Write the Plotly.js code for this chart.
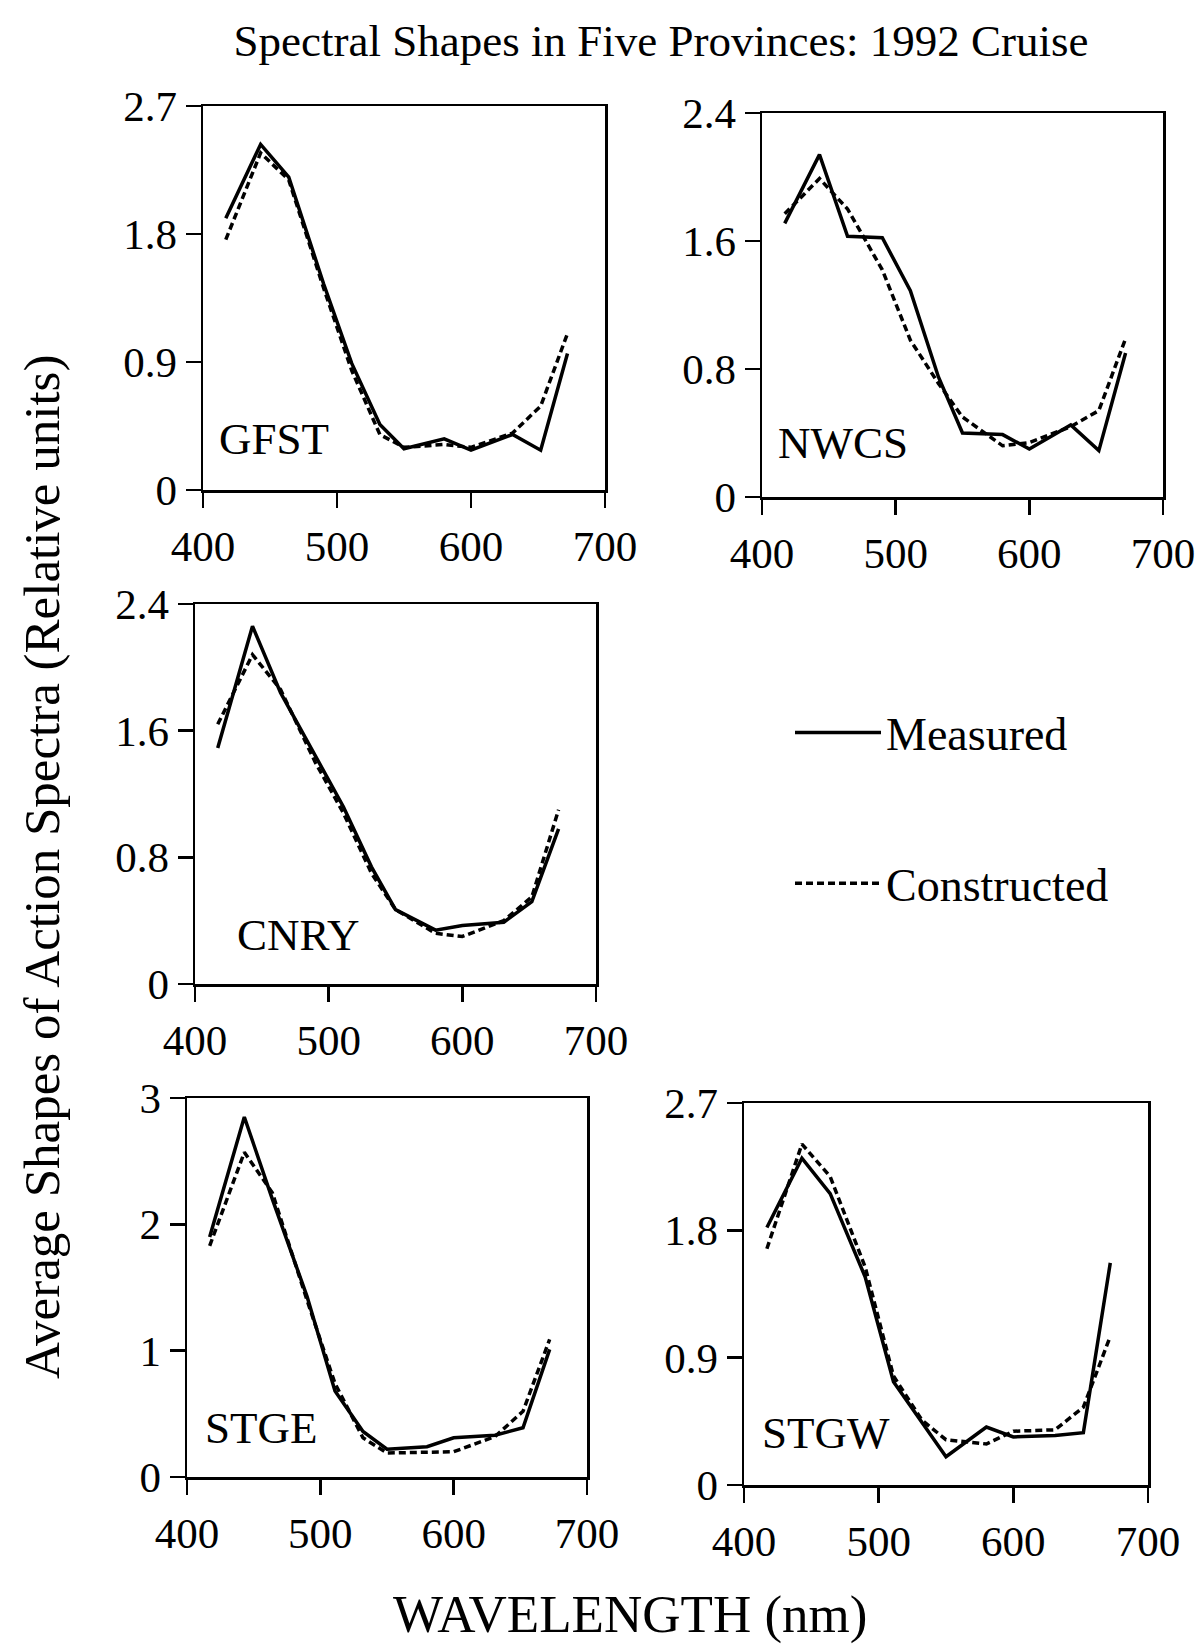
<!DOCTYPE html>
<html>
<head>
<meta charset="utf-8">
<script src="https://cdn.plot.ly/plotly-3.0.1.min.js"></script>
<style>body{margin:0;background:#fff}#chart{width:1200px;height:1648px}</style>
</head>
<body>
<div id="chart"></div>
<script>
// ---- data ----
const wavelengths = [417, 443, 464, 490, 511, 532, 550, 580, 600, 631, 652, 672];
const provinces = ["GFST", "NWCS", "CNRY", "STGE", "STGW"];

const gfstMeasured    = [1.91, 2.43, 2.20, 1.45, 0.89, 0.46, 0.29, 0.36, 0.28, 0.39, 0.28, 0.96];
const gfstConstructed = [1.76, 2.37, 2.18, 1.42, 0.84, 0.39, 0.30, 0.32, 0.30, 0.40, 0.59, 1.10];

const nwcsMeasured    = [1.71, 2.14, 1.63, 1.62, 1.29, 0.75, 0.40, 0.39, 0.30, 0.45, 0.29, 0.90];
const nwcsConstructed = [1.77, 1.99, 1.80, 1.42, 0.98, 0.71, 0.50, 0.32, 0.34, 0.44, 0.54, 0.99];

const cnryMeasured    = [1.49, 2.26, 1.84, 1.44, 1.12, 0.74, 0.47, 0.34, 0.37, 0.39, 0.52, 0.98];
const cnryConstructed = [1.64, 2.08, 1.86, 1.40, 1.08, 0.70, 0.47, 0.32, 0.30, 0.40, 0.55, 1.10];

const stgeMeasured    = [1.90, 2.85, 2.20, 1.43, 0.68, 0.36, 0.22, 0.24, 0.31, 0.33, 0.39, 1.01];
const stgeConstructed = [1.83, 2.57, 2.25, 1.40, 0.74, 0.31, 0.19, 0.20, 0.20, 0.32, 0.52, 1.09];

const stgwMeasured    = [1.82, 2.31, 2.06, 1.47, 0.73, 0.44, 0.20, 0.41, 0.34, 0.35, 0.37, 1.57];
const stgwConstructed = [1.67, 2.41, 2.18, 1.54, 0.77, 0.46, 0.32, 0.29, 0.38, 0.39, 0.55, 1.05];

const xTicks = [400, 500, 600, 700];
const yTicks27 = [0, 0.9, 1.8, 2.7];
const yTickText27 = ["0", "0.9", "1.8", "2.7"];
const yTicks24 = [0, 0.8, 1.6, 2.4];
const yTickText24 = ["0", "0.8", "1.6", "2.4"];
const yTicks3 = [0, 1, 2, 3];
const yTickText3 = ["0", "1", "2", "3"];

const seriesNames = ["Measured", "Constructed"];
const titleText = "Spectral Shapes in Five Provinces: 1992 Cruise";
const yTitleText = "Average Shapes of Action Spectra (Relative units)";
const xTitleText = "WAVELENGTH (nm)";

// ---- layout ----
const W = 1200, H = 1648;
const FONT = "Liberation Serif, Times New Roman, serif";
// panel boxes in pixels: [left, right, top, bottom]
const boxes = [
  [203, 605, 106, 490],
  [762, 1163, 113, 497],
  [195, 596, 604, 984],
  [187, 587, 1098, 1477],
  [744, 1148, 1103, 1485]
];
const labelPos = [[0.035, 0.133], [0.035, 0.14], [0.1, 0.13], [0.04, 0.13], [0.04, 0.136]];
const yConf = [
  [yTicks27, yTickText27, 2.7],
  [yTicks24, yTickText24, 2.4],
  [yTicks24, yTickText24, 2.4],
  [yTicks3, yTickText3, 3],
  [yTicks27, yTickText27, 2.7]
];
const measuredAll = [gfstMeasured, nwcsMeasured, cnryMeasured, stgeMeasured, stgwMeasured];
const constructedAll = [gfstConstructed, nwcsConstructed, cnryConstructed, stgeConstructed, stgwConstructed];

const traces = [];
const layout = {
  width: W, height: H,
  margin: {l: 0, r: 0, t: 0, b: 0},
  paper_bgcolor: "#fff", plot_bgcolor: "#fff",
  font: {family: FONT, color: "#000", size: 42},
  title: {text: titleText, x: 661 / W, xanchor: "center", y: 1 - 40 / H, yanchor: "middle",
          font: {family: FONT, size: 45, color: "#000"}},
  showlegend: true,
  legend: {x: 790 / W, xanchor: "left", y: 1 - 696 / H, yanchor: "top",
           font: {family: FONT, size: 46, color: "#000"}, tracegroupgap: 88,
           traceorder: "grouped", itemwidth: 86, bgcolor: "rgba(0,0,0,0)"},
  annotations: [],
  hovermode: false
};

boxes.forEach((b, i) => {
  const n = i === 0 ? "" : String(i + 1);
  const xa = "xaxis" + n, ya = "yaxis" + n;
  layout[xa] = {
    domain: [b[0] / W, b[1] / W], range: [400, 700], anchor: "y" + n,
    tickvals: xTicks, ticktext: xTicks.map(String), ticks: "outside", ticklen: 15, tickwidth: 2.5,
    tickcolor: "#000", showline: true, linewidth: 2.5, linecolor: "#000", mirror: true,
    showgrid: false, zeroline: false, tickfont: {family: FONT, size: 43, color: "#000"},
    ticklabelstandoff: 2, fixedrange: true
  };
  const yc = yConf[i];
  layout[ya] = {
    domain: [1 - b[3] / H, 1 - b[2] / H], range: [0, yc[2]], anchor: "x" + n,
    tickvals: yc[0], ticktext: yc[1], ticks: "outside", ticklen: 15, tickwidth: 2.5,
    tickcolor: "#000", showline: true, linewidth: 2.5, linecolor: "#000", mirror: true,
    showgrid: false, zeroline: false, tickfont: {family: FONT, size: 43, color: "#000"},
    ticklabelstandoff: 0, fixedrange: true
  };
  traces.push({
    x: wavelengths, y: measuredAll[i], type: "scatter", mode: "lines",
    line: {color: "#000", width: 3.5}, xaxis: "x" + n, yaxis: "y" + n,
    name: seriesNames[0], legendgroup: "m", showlegend: i === 0
  });
  traces.push({
    x: wavelengths, y: constructedAll[i], type: "scatter", mode: "lines",
    line: {color: "#000", width: 3.5, dash: "7px,4px"}, xaxis: "x" + n, yaxis: "y" + n,
    name: seriesNames[1], legendgroup: "c", showlegend: i === 0
  });
  layout.annotations.push({
    text: provinces[i], xref: "x" + n + " domain", yref: "y" + n + " domain",
    x: labelPos[i][0], y: labelPos[i][1], xanchor: "left", yanchor: "middle",
    showarrow: false, font: {family: FONT, size: 45, color: "#000"}
  });
});

layout.annotations.push({
  text: yTitleText, xref: "paper", yref: "paper", x: 42 / W, y: 1 - 867 / H,
  xanchor: "center", yanchor: "middle", textangle: -90, showarrow: false,
  font: {family: FONT, size: 51, color: "#000"}
});
layout.annotations.push({
  text: xTitleText, xref: "paper", yref: "paper", x: 630 / W, y: 1 - 1614 / H,
  xanchor: "center", yanchor: "middle", showarrow: false,
  font: {family: FONT, size: 53, color: "#000"}
});

Plotly.newPlot("chart", traces, layout, {displayModeBar: false, staticPlot: true});
</script>
</body>
</html>
